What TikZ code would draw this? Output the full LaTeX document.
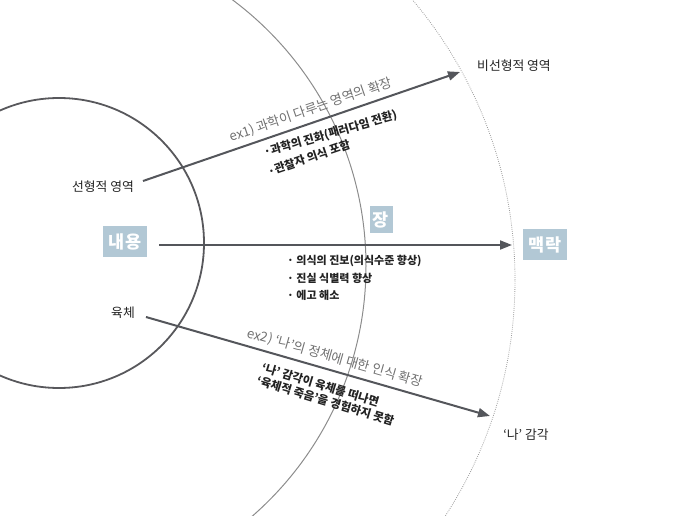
\documentclass[tikz,border=0pt]{standalone}
\usepackage{fontspec}
\setmainfont{Noto Sans CJK KR}
\usetikzlibrary{arrows.meta}
\definecolor{arrowgray}{HTML}{54565B}
\definecolor{ringdark}{HTML}{58585C}
\definecolor{ringmid}{HTML}{8C8C8C}
\definecolor{ringlight}{HTML}{9A9A9A}
\definecolor{boxblue}{HTML}{B2C8D5}
\definecolor{notegray}{HTML}{707070}
\definecolor{inkblack}{HTML}{222222}
\begin{document}
\begin{tikzpicture}[x=1pt,y=-1pt,
  lbl/.style={font=\fontsize{12.8}{14}\selectfont, text=inkblack, inner sep=0pt},
  tag/.style={fill=boxblue, text=white, font=\fontsize{17.5}{19}\selectfont\bfseries,
              minimum width=44pt, minimum height=31pt, inner sep=0pt},
  note/.style={font=\fontsize{13.2}{15}\selectfont, text=notegray, inner sep=0pt},
  pnt/.style={font=\fontsize{11}{13}\selectfont\bfseries, text=inkblack, inner sep=0pt, anchor=west},
  pntb/.style={pnt, font=\fontsize{11.5}{13}\selectfont\bfseries},
  arr/.style={draw=arrowgray, line width=2pt, -{Triangle[length=12pt,width=9pt]}},
]
\useasboundingbox (0,0) rectangle (681,516);
\clip (0,0) rectangle (681,516);

% rings
\draw[ringlight, line width=0.8pt, dash pattern=on 0.8pt off 1.3pt] (81,280) circle[radius=434pt];
\draw[ringmid, line width=1pt] (34,266) circle[radius=332pt];
\draw[ringdark, line width=1.8pt] (59,243) circle[radius=145pt];

% boxes and labels
\node[tag] (nae) at (125,242) {내용};
\node[tag, minimum width=23pt, minimum height=27pt] (jang) at (381,220) {장};
\node[tag] (mae) at (545,245) {맥락};
\node[lbl] (lin) at (103,187) {선형적 영역};
\node[lbl] (yuk) at (123,313) {육체};
\node[lbl] (nonlin) at (514,66) {비선형적 영역};
\node[lbl] (self) at (526,435) {‘나’ 감각};

% arrow ends
\coordinate (u0) at (143,181); \coordinate (u1) at (460,72);
\coordinate (m0) at (159,245); \coordinate (m1) at (512,245);
\coordinate (d0) at (146,317); \coordinate (d1) at (490,416);

\draw[arr] (u0) -- (u1);
\draw[arr] (m0) -- (m1);
\draw[arr] (d0) -- (d1);

% upper notes
\node[note, rotate=19] (ex1) at (311,110) {ex1) 과학이 다루는 영역의 확장};
\node[pntb, rotate=16] (u-a) at (264,153) {·과학의 진화(패러다임 전환)};
\node[pntb, rotate=19] (u-b) at (268,172) {·관찰자 의식 포함};

% middle notes
\node[pnt] (m-a) at (287,261) {· 의식의 진보(의식수준 향상)};
\node[pnt] (m-b) at (287,278) {· 진실 식별력 향상};
\node[pnt] (m-c) at (287,295) {· 에고 해소};

% lower notes
\node[note, rotate=-16] (ex2) at (335,358) {ex2) ‘나’의 정체에 대한 인식 확장};
\node[pntb, rotate=-17] (d-a) at (262,367) {‘나’ 감각이 육체를 떠나면};
\node[pntb, rotate=-17] (d-b) at (257,380) {‘육체적 죽음’을 경험하지 못함};
\end{tikzpicture}
\end{document}
